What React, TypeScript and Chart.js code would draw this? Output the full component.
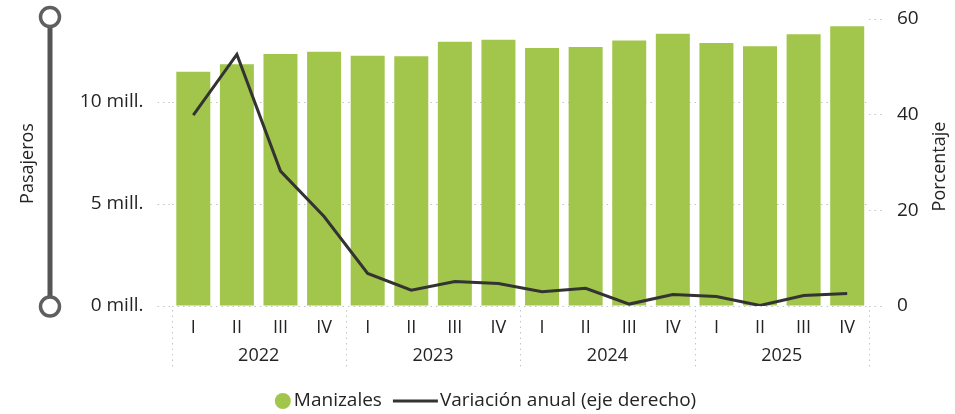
import { useEffect, useRef } from 'react';
import { Chart, registerables } from 'chart.js';

Chart.register(...registerables);

const QUARTERS = ['I', 'II', 'III', 'IV', 'I', 'II', 'III', 'IV', 'I', 'II', 'III', 'IV', 'I', 'II', 'III', 'IV'];
const YEARS = ['2022', '2023', '2024', '2025'];
// Pasajeros (millones)
const PASSENGERS_MILL = [11.49, 11.85, 12.35, 12.47, 12.27, 12.24, 12.96, 13.05, 12.65, 12.7, 13.02, 13.35, 12.89, 12.73, 13.32, 13.71];
// Variación anual (%)
const ANNUAL_VAR = [39.9, 52.6, 28.2, 18.7, 6.8, 3.3, 5.1, 4.7, 3.0, 3.7, 0.4, 2.4, 2.0, 0.1, 2.2, 2.6];
const LEFT_TICKS = [0, 5, 10];
const RIGHT_TICKS = [0, 20, 40, 60];
const LEFT_MAX = 14.07;
const RIGHT_MAX = 60;

const BAR_LABEL = 'Manizales';
const LINE_LABEL = 'Variación anual (eje derecho)';
const LEFT_TITLE = 'Pasajeros';
const RIGHT_TITLE = 'Porcentaje';

const FONT = "'Segoe UI', 'Open Sans', sans-serif";
const TEXT = '#252423';
const GREEN = '#A2C64B';
const LINE = '#333333';
const GRID = '#c4c4c4';
const DASH = [1.5, 4];

export default function App() {
  const ref = useRef<HTMLCanvasElement>(null);

  useEffect(() => {
    const canvas = ref.current!;

    const decor = {
      id: 'decor',
      afterDraw(chart: any) {
        const ctx = chart.ctx as CanvasRenderingContext2D;
        const area = chart.chartArea;
        const x2 = chart.scales.x2;

        // slider decoration on the left
        ctx.save();
        const sx = 50;
        const topY = area.top - 2;
        const botY = area.bottom + 0.5;
        ctx.strokeStyle = '#555555';
        ctx.lineWidth = 5;
        ctx.beginPath();
        ctx.moveTo(sx, topY);
        ctx.lineTo(sx, botY);
        ctx.stroke();
        ctx.lineWidth = 3.5;
        ctx.strokeStyle = '#5f5f5f';
        ctx.fillStyle = '#ffffff';
        for (const cy of [topY, botY]) {
          ctx.beginPath();
          ctx.arc(sx, cy, 9.5, 0, Math.PI * 2);
          ctx.fill();
          ctx.stroke();
        }
        ctx.restore();

        // axis titles (both rotated -90deg)
        ctx.save();
        ctx.fillStyle = TEXT;
        ctx.font = `18px ${FONT}`;
        ctx.textAlign = 'center';
        ctx.textBaseline = 'middle';
        const midY = (area.top + area.bottom) / 2;
        ctx.save();
        ctx.translate(28, midY + 1);
        ctx.rotate(-Math.PI / 2);
        ctx.fillText(LEFT_TITLE, 0, 0);
        ctx.restore();
        ctx.save();
        ctx.translate(940, midY + 4);
        ctx.rotate(-Math.PI / 2);
        ctx.fillText(RIGHT_TITLE, 0, 0);
        ctx.restore();
        ctx.restore();

        // year separators
        ctx.save();
        ctx.strokeStyle = GRID;
        ctx.lineWidth = 1;
        ctx.setLineDash(DASH);
        const n = YEARS.length;
        for (let i = 0; i <= n; i++) {
          const x = Math.round(x2.left + (i * x2.width) / n) + 0.5;
          ctx.beginPath();
          ctx.moveTo(x, area.bottom + 4);
          ctx.lineTo(x, 368);
          ctx.stroke();
        }
        ctx.restore();

        // legend
        ctx.save();
        ctx.font = `19px ${FONT}`;
        ctx.textBaseline = 'middle';
        ctx.textAlign = 'left';
        const ly = 401;
        const r = 8;
        const w1 = ctx.measureText(BAR_LABEL).width;
        const w2 = ctx.measureText(LINE_LABEL).width;
        const lineLen = 45;
        const total = r * 2 + 3 + w1 + 11 + lineLen + 2 + w2;
        let x = 485.5 - total / 2;
        ctx.fillStyle = GREEN;
        ctx.beginPath();
        ctx.arc(x + r, ly, r, 0, Math.PI * 2);
        ctx.fill();
        x += r * 2 + 3;
        ctx.fillStyle = TEXT;
        ctx.fillText(BAR_LABEL, x, ly);
        x += w1 + 11;
        ctx.strokeStyle = LINE;
        ctx.lineWidth = 3;
        ctx.beginPath();
        ctx.moveTo(x, ly);
        ctx.lineTo(x + lineLen, ly);
        ctx.stroke();
        x += lineLen + 2;
        ctx.fillText(LINE_LABEL, x, ly);
        ctx.restore();
      },
    };

    const tickFont = { family: FONT, size: 19 };
    const xFont = { family: FONT, size: 18 };

    const chart = new Chart(canvas, {
      type: 'bar',
      data: {
        labels: QUARTERS,
        datasets: [
          {
            type: 'line',
            label: LINE_LABEL,
            data: ANNUAL_VAR,
            yAxisID: 'y1',
            borderColor: LINE,
            backgroundColor: LINE,
            borderWidth: 3,
            pointRadius: 0,
            tension: 0,
            order: 0,
          } as any,
          {
            type: 'bar',
            label: BAR_LABEL,
            data: PASSENGERS_MILL,
            yAxisID: 'y',
            backgroundColor: GREEN,
            barPercentage: 0.78,
            categoryPercentage: 1,
            order: 1,
          },
        ],
      },
      options: {
        responsive: false,
        animation: false,
        events: [],
        layout: { padding: { left: 0, right: 0, top: 19, bottom: 0 } },
        plugins: { legend: { display: false }, tooltip: { enabled: false }, title: { display: false } },
        scales: {
          x: {
            type: 'category',
            position: 'bottom',
            offset: true,
            grid: { display: false },
            border: { display: false },
            ticks: { font: xFont, color: TEXT, padding: 3, maxRotation: 0, autoSkip: false },
            afterFit(s: any) {
              s.height = 29;
              s.paddingLeft = 0;
              s.paddingRight = 0;
            },
          },
          x2: {
            type: 'category',
            labels: YEARS,
            position: 'bottom',
            offset: true,
            grid: { display: false },
            border: { display: false },
            ticks: { font: xFont, color: TEXT, padding: 2, maxRotation: 0, autoSkip: false },
            afterFit(s: any) {
              s.height = 79;
              s.paddingLeft = 0;
              s.paddingRight = 0;
            },
          },
          y: {
            position: 'left',
            min: 0,
            max: LEFT_MAX,
            afterBuildTicks(s: any) {
              s.ticks = LEFT_TICKS.map((v) => ({ value: v }));
            },
            ticks: { font: tickFont, color: TEXT, padding: 14, callback: (v: any) => `${v} mill.` },
            grid: { color: GRID, lineWidth: 1, tickLength: 14, tickBorderDash: DASH, tickColor: GRID },
            border: { display: false, dash: DASH },
            afterFit(s: any) {
              s.width = 171.5;
              s.paddingTop = 0;
              s.paddingBottom = 0;
            },
          },
          y1: {
            position: 'right',
            min: 0,
            max: RIGHT_MAX,
            afterBuildTicks(s: any) {
              s.ticks = RIGHT_TICKS.map((v) => ({ value: v }));
            },
            ticks: { font: tickFont, color: TEXT, padding: 14 },
            grid: { drawOnChartArea: false, color: GRID, tickLength: 14, tickBorderDash: DASH, tickColor: GRID },
            border: { display: false },
            afterFit(s: any) {
              s.width = 86;
              s.paddingTop = 0;
              s.paddingBottom = 0;
            },
          },
        },
      } as any,
      plugins: [decor],
    });

    return () => chart.destroy();
  }, []);

  return (
    <div style={{ position: 'absolute', left: 0, top: 0, width: 955, height: 414, background: '#fff' }}>
      <canvas ref={ref} width={955} height={414} style={{ display: 'block', width: 955, height: 414 }} />
    </div>
  );
}
